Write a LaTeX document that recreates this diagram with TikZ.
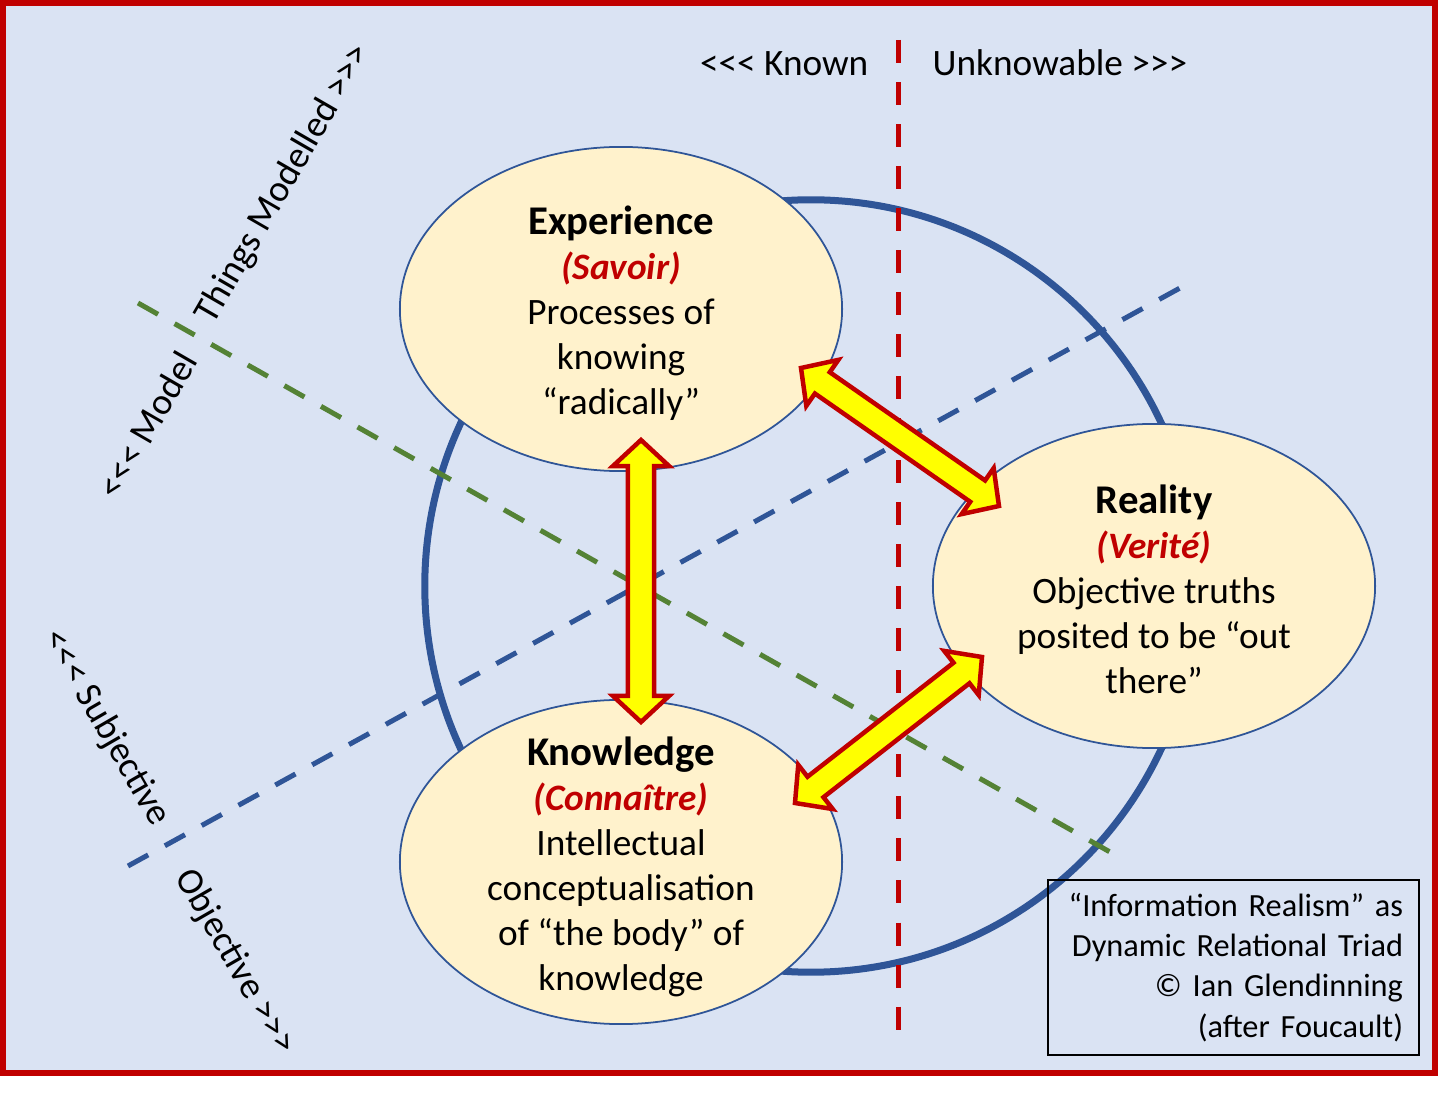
\documentclass[tikz,border=0pt]{standalone}
\usepackage{fontspec}
\setmainfont{Carlito}
\usetikzlibrary{calc,shapes.geometric}

\definecolor{framered}{RGB}{192,0,0}
\definecolor{paleblue}{RGB}{218,227,243}
\definecolor{ringblue}{RGB}{47,85,151}
\definecolor{axisgreen}{RGB}{84,130,53}
\definecolor{cream}{RGB}{255,242,204}
\definecolor{arrowyellow}{RGB}{255,255,0}

\newcommand{\bodysize}{\fontsize{10.6pt}{12.8pt}\selectfont}
\newcommand{\triadtitle}[1]{{\fontsize{11.6pt}{12.8pt}\selectfont\bfseries #1}}
\newcommand{\triadterm}[1]{{\color{framered}\bfseries\itshape #1}}
% keep the chevrons apart (no guillemet ligature)
\newcommand{\leftmarks}{<\kern0pt<\kern0pt<}
\newcommand{\rightmarks}{>\kern0pt>\kern0pt>}

% fat two-headed arrow between two named points
\newcommand{\arrowhead}{0.26cm}
\newcommand{\arrowwing}{0.28cm}
\newcommand{\arrowshaft}{0.13cm}
\newcommand{\triadarrow}[3]{%
  \path ($(#2)!\arrowhead!(#3)$) coordinate (#1-ha)
        ($(#3)!\arrowhead!(#2)$) coordinate (#1-hb);
  \draw[fatarrow] (#2)
    -- ($(#1-ha)!\arrowwing!90:(#3)$)
    -- ($(#1-ha)!\arrowshaft!90:(#3)$)
    -- ($(#1-hb)!\arrowshaft!-90:(#2)$)
    -- ($(#1-hb)!\arrowwing!-90:(#2)$)
    -- (#3)
    -- ($(#1-hb)!\arrowwing!90:(#2)$)
    -- ($(#1-hb)!\arrowshaft!90:(#2)$)
    -- ($(#1-ha)!\arrowshaft!-90:(#3)$)
    -- ($(#1-ha)!\arrowwing!-90:(#3)$)
    -- cycle;}

\tikzset{
  bubble/.style={ellipse, draw=ringblue, line width=0.5pt, fill=cream,
    minimum width=4.42cm, minimum height=3.24cm, inner sep=0pt},
  bubbletext/.style={align=center, font=\bodysize, inner sep=0pt},
  axislabel/.style={font=\bodysize, inner sep=0pt},
  dashaxis/.style={line width=0.05cm, dash pattern=on 0.23cm off 0.19cm},
  fatarrow/.style={draw=framered, fill=arrowyellow, line width=0.045cm,
    line join=miter, miter limit=10},
}

\begin{document}
\begin{tikzpicture}[x=0.01cm, y=-0.01cm]
  \useasboundingbox (0,0) rectangle (1438,1094);

  % Frame
  \draw[draw=framered, fill=paleblue, line width=0.06cm] (3,3) rectangle (1435,1073);

  % Ring round the triad
  \draw[ringblue, line width=0.07cm] (811,586) circle (3.86cm);

  % Axes
  \draw[dashaxis, framered] (898,40) -- (898,1030);
  \draw[dashaxis, ringblue] (128,866) -- (1180,288);
  \draw[dashaxis, axisgreen] (138,303) -- (1110,852);

  % The three ellipses
  \node[bubble] (experience) at (621,309) {};
  \node[bubble] (knowledge) at (621,862) {};
  \node[bubble] (reality) at (1154,586) {};

  \node[bubbletext] (exptext) at (621,313)
    {\triadtitle{Experience}\\ \triadterm{(Savoir)}\\ Processes of\\ knowing\\ “radically”};
  \node[bubbletext] (knotext) at (621,867)
    {\triadtitle{Knowledge}\\ \triadterm{(Connaître)}\\ Intellectual\\ conceptualisation\\ of “the body” of\\ knowledge};
  \node[bubbletext] (reatext) at (1154,589)
    {\triadtitle{Reality}\\ \triadterm{(Verité)}\\ Objective truths\\ posited to be “out\\ there”};

  % Arrow ends
  \coordinate (expS) at (641,440);
  \coordinate (knoN) at (641,722);
  \coordinate (expE) at (801,368);
  \coordinate (reaW) at (999,506);
  \coordinate (knoE) at (795,803);
  \coordinate (reaSW) at (982,657);

  \triadarrow{ek}{expS}{knoN}
  \triadarrow{er}{expE}{reaW}
  \triadarrow{kr}{knoE}{reaSW}

  % Axis labels
  \node[axislabel, anchor=base east] (known) at (869,76) {\leftmarks{} Known};
  \node[axislabel, anchor=base west] (unknowable) at (932,76) {Unknowable \rightmarks};
  \node[axislabel, rotate=60] (model) at (147,425) {\leftmarks{} Model};
  \node[axislabel, rotate=60] (things) at (284,184) {Things Modelled \rightmarks};
  \node[axislabel, rotate=-60] (subjective) at (106,728) {\leftmarks{} Subjective};
  \node[axislabel, rotate=-60] (objective) at (235,962) {Objective \rightmarks};

  % Credit box
  \node[draw, line width=0.5pt, minimum width=3.71cm, minimum height=1.75cm,
    text width=3.39cm, align=right, inner xsep=0.16cm,
    font=\fontsize{9.2pt}{11.4pt}\selectfont] (credit) at (1233.5,967.5)
    {“Information Realism” as\\ Dynamic Relational Triad\\ © Ian Glendinning\\ (after Foucault)};
\end{tikzpicture}
\end{document}
